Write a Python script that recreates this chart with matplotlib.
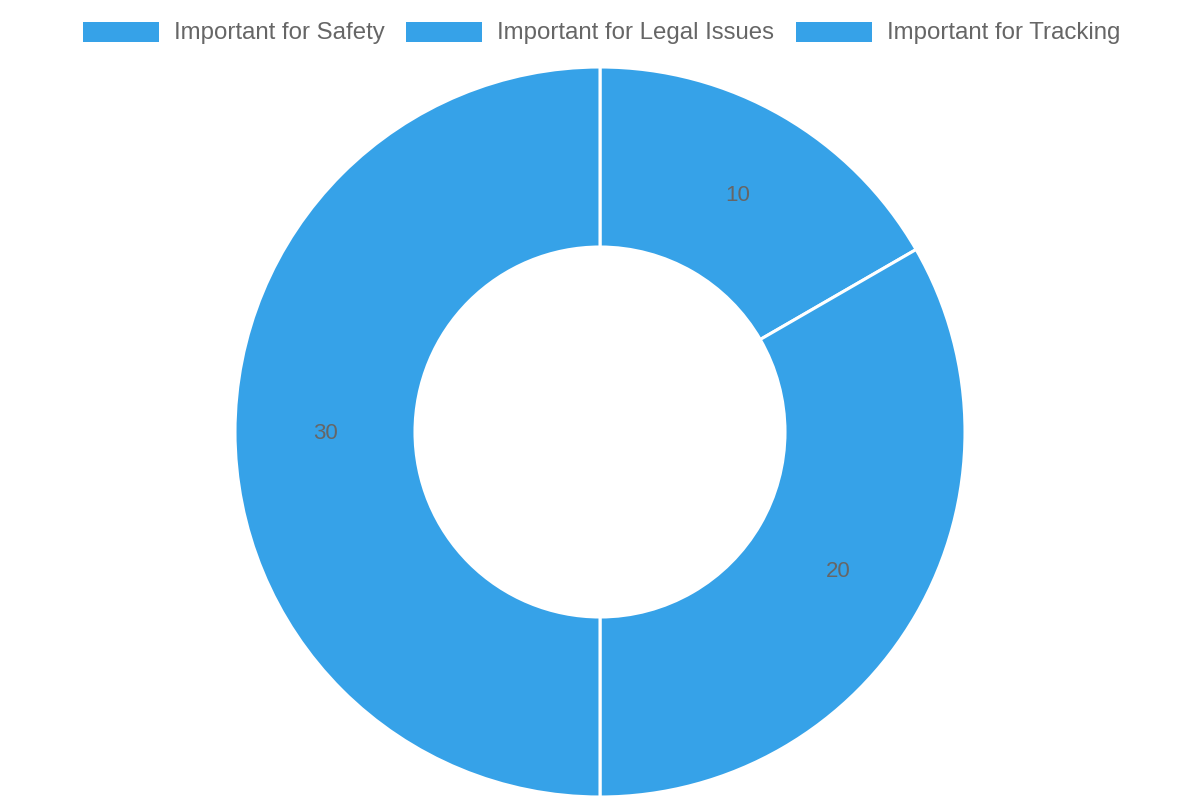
import matplotlib
matplotlib.use("Agg")
import matplotlib.pyplot as plt
from matplotlib.patches import Rectangle

plt.rcParams['font.family'] = ['Liberation Sans', 'DejaVu Sans']

labels = ["Important for Safety", "Important for Legal Issues", "Important for Tracking"]
values = [10, 20, 30]
color = "#36A2E8"
text_color = "#666666"

fig = plt.figure(figsize=(12, 8), dpi=100)
ax = fig.add_axes([0, 0, 1, 1])

outer = 365
inner = 185
total = sum(values)
wedges, texts, autotexts = ax.pie(
    values, colors=[color] * len(values), startangle=90, counterclock=False,
    center=(600, 368), radius=outer, frame=True,
    wedgeprops=dict(width=outer - inner, edgecolor="white", linewidth=2.2),
    autopct=lambda p: "%d" % round(p * total / 100.0),
    pctdistance=(outer + inner) / 2.0 / outer,
    textprops=dict(color=text_color, fontsize=16))
for t in autotexts:
    t.set_y(t.get_position()[1] - 2)
ax.set_xlim(0, 1200)
ax.set_ylim(0, 800)
ax.set_aspect("equal")
ax.axis("off")

# legend across the top, laid out by hand
box_x = [83, 406, 796]
for bx, lab in zip(box_x, labels):
    ax.add_patch(Rectangle((bx, 758), 76, 20, facecolor=color, edgecolor="none"))
    ax.text(bx + 91, 767, lab, color=text_color, fontsize=17.3, va="center", ha="left")

fig.savefig("out.png", dpi=100)
